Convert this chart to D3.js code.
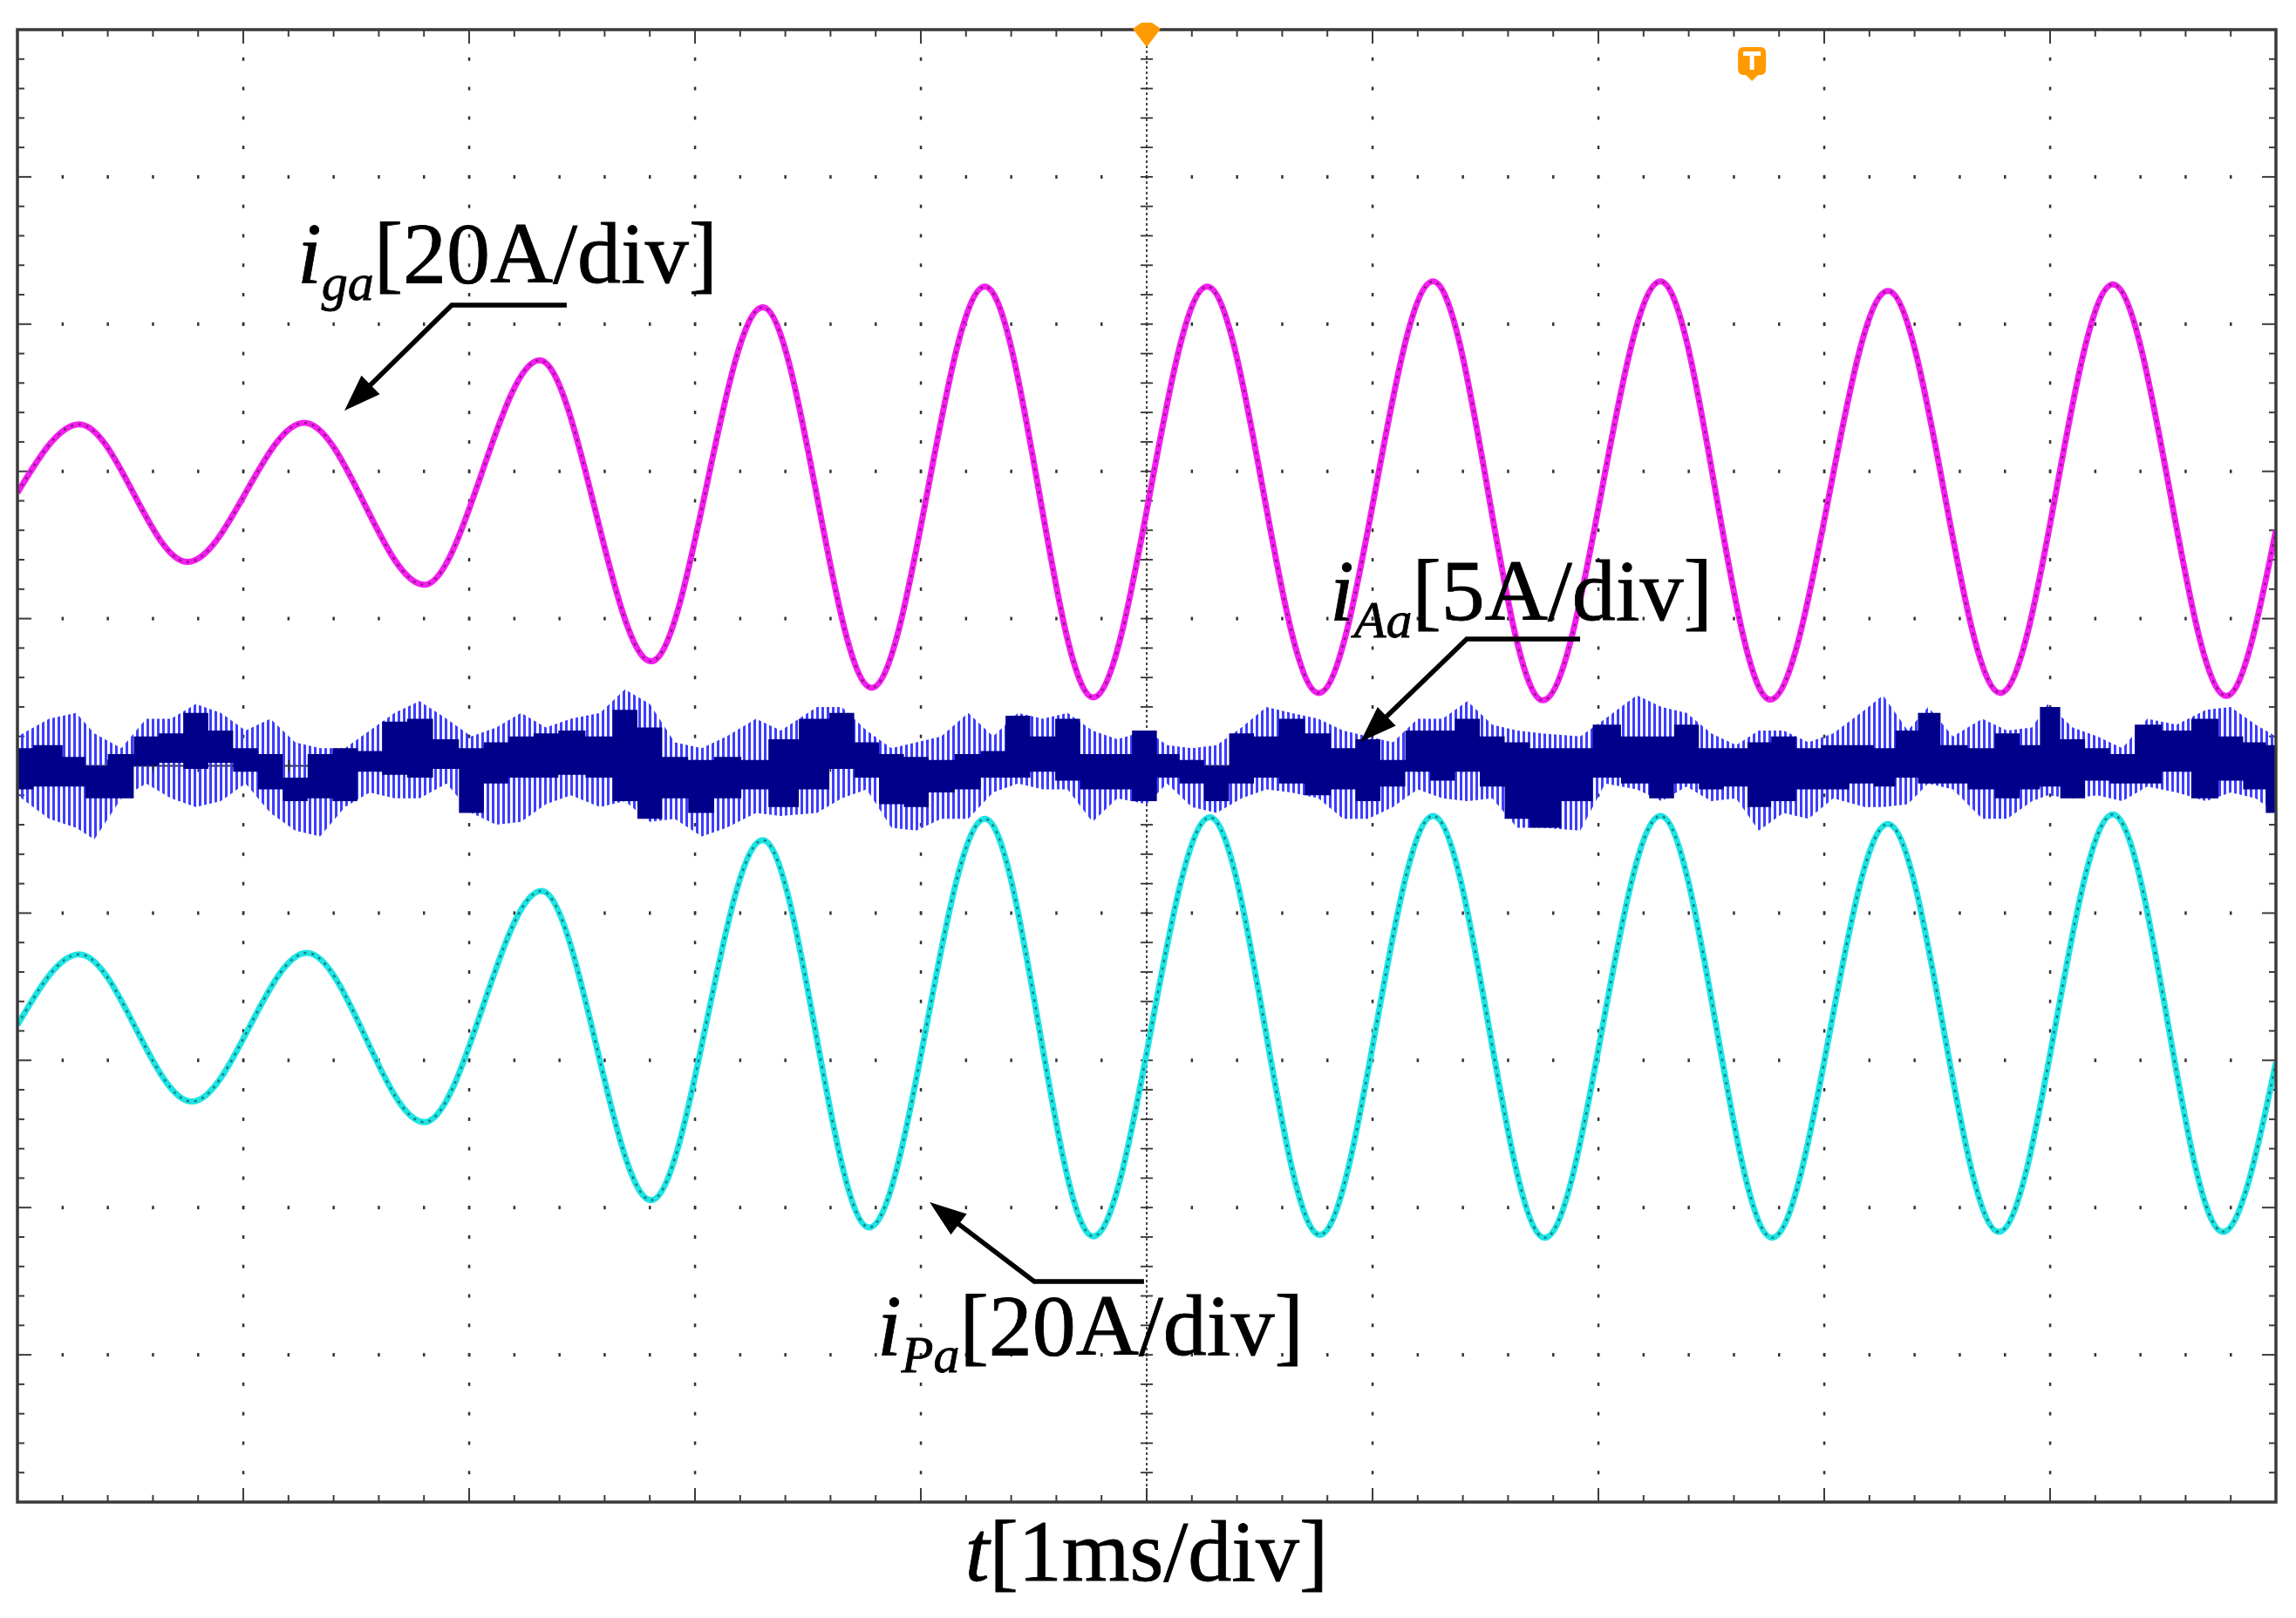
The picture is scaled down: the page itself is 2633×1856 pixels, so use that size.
<!DOCTYPE html>
<html>
<head>
<meta charset="utf-8">
<script src="https://cdn.jsdelivr.net/npm/d3@7"></script>
<style>
  body { margin: 0; background: #fff; }
  svg { display: block; }
</style>
</head>
<body>
<div id="vis"></div>
<script>

// i_ga : grid current, 20 A/div, extrema (time in ms)
var igaT = [0, 0.274, 0.753, 1.270, 1.802, 2.312, 2.806, 3.300, 3.782, 4.284, 4.763,
            5.268, 5.762, 6.268, 6.754, 7.275, 7.761, 8.282, 8.780, 9.278, 9.780, 10];
var igaA = [-0.3, 9.0, -9.7, 9.2, -12.8, 17.7, -23.2, 24.9, -26.8, 27.7, -28.1,
            27.7, -27.5, 28.4, -28.5, 28.4, -28.4, 27.1, -27.5, 28.0, -27.9, -5.4];

// i_Pa : 20 A/div
var ipaT = [0, 0.274, 0.772, 1.281, 1.802, 2.320, 2.806, 3.300, 3.771, 4.284, 4.763,
            5.280, 5.766, 6.268, 6.762, 7.275, 7.769, 8.282, 8.773, 9.278, 9.765, 10];
var ipaA = [0.2, 9.8, -10.2, 10.0, -13.0, 18.4, -23.6, 25.3, -27.3, 28.2, -28.5,
            28.4, -28.3, 28.6, -28.7, 28.6, -28.7, 27.5, -27.9, 28.8, -27.9, -4.9];

// i_Aa : 5 A/div, ripple envelope (outer hatch) and dense core, in A
var iaaT = [0.00, 0.14, 0.26, 0.34, 0.46, 0.57, 0.68, 0.79, 0.90, 1.01, 1.12, 1.23, 1.34, 1.45,
            1.56, 1.67, 1.78, 1.90, 2.01, 2.12, 2.23, 2.34, 2.45, 2.58, 2.69, 2.80, 2.91, 3.03,
            3.14, 3.27, 3.38, 3.54, 3.65, 3.76, 3.87, 3.98, 4.09, 4.21, 4.32, 4.43, 4.54, 4.65,
            4.76, 4.87, 5.00, 5.09, 5.20, 5.31, 5.42, 5.53, 5.64, 5.76, 5.87, 5.98, 6.09, 6.20,
            6.31, 6.42, 6.53, 6.64, 6.75, 6.92, 7.03, 7.17, 7.28, 7.39, 7.50, 7.61, 7.71, 7.82,
            7.93, 8.04, 8.18, 8.26, 8.37, 8.46, 8.57, 8.70, 8.81, 8.92, 8.99, 9.10, 9.21, 9.32,
            9.43, 9.56, 9.69, 9.80, 9.91, 10.0];
var iaaHi = [1.0, 1.6, 1.8, 1.1, 0.6, 1.6, 1.6, 2.1, 1.8, 1.2, 1.6, 0.8, 0.6, 0.6,
             1.2, 1.8, 2.2, 1.6, 1.0, 1.3, 1.8, 1.3, 1.6, 1.8, 2.6, 2.1, 0.8, 0.6,
             1.0, 1.6, 1.2, 2.0, 2.0, 1.2, 0.6, 0.8, 1.0, 1.8, 1.0, 1.8, 1.6, 1.8,
             1.2, 0.9, 1.2, 0.7, 0.6, 0.7, 1.3, 2.0, 1.8, 1.6, 1.2, 1.0, 0.8, 1.6,
             1.6, 2.2, 1.4, 1.2, 1.1, 1.0, 1.6, 2.4, 2.0, 1.8, 1.1, 0.7, 1.2, 1.2,
             0.8, 1.1, 1.9, 2.4, 1.2, 2.0, 1.0, 1.6, 1.2, 1.3, 2.1, 1.3, 1.0, 0.6,
             1.6, 1.4, 1.9, 2.0, 1.4, 1.0];
var iaaLo = [-1.0, -1.8, -2.1, -2.5, -1.1, -0.6, -1.1, -1.4, -1.2, -0.6, -1.6, -2.2, -2.4, -1.4,
             -0.9, -1.1, -1.1, -0.6, -1.6, -2.0, -1.9, -1.3, -1.0, -1.4, -1.2, -1.9, -1.8, -2.4,
             -2.1, -1.6, -1.7, -1.6, -1.1, -0.8, -2.1, -2.2, -1.8, -1.8, -0.9, -0.6, -0.8, -0.8,
             -1.9, -1.1, -1.3, -0.6, -1.4, -1.6, -1.1, -0.8, -0.9, -1.1, -1.8, -1.8, -1.4, -0.8,
             -1.1, -1.2, -1.1, -2.1, -2.1, -2.2, -0.6, -0.8, -1.2, -0.7, -1.2, -1.1, -2.2, -1.6,
             -1.8, -1.1, -1.4, -1.4, -1.3, -0.6, -0.8, -1.8, -1.8, -1.2, -1.0, -1.1, -1.0, -1.2,
             -0.7, -0.9, -1.2, -0.9, -1.1, -1.6];
var iaaCoreHi = [0.6, 0.7, 0.3, 0.0, 0.4, 1.0, 1.1, 1.8, 1.2, 0.6, 0.4, -0.4, 0.4, 0.6,
                 0.5, 1.5, 1.6, 0.9, 0.6, 0.8, 1.0, 1.1, 1.2, 1.0, 1.9, 1.3, 0.3, 0.2,
                 0.3, 0.2, 0.9, 1.6, 1.8, 0.8, 0.4, 0.3, 0.2, 0.4, 0.5, 1.7, 1.0, 1.6,
                 0.4, 0.4, 1.2, 0.4, 0.2, 0.0, 1.1, 1.0, 1.6, 1.1, 0.6, 0.9, 0.2, 1.2,
                 1.2, 1.6, 1.0, 0.8, 0.6, 0.6, 1.4, 1.0, 1.0, 1.4, 0.6, 0.6, 0.8, 1.0,
                 0.6, 0.7, 0.7, 0.6, 1.2, 1.8, 0.7, 0.6, 1.1, 0.7, 2.0, 0.9, 0.6, 0.4,
                 1.4, 1.2, 1.6, 1.0, 0.8, 0.7];
var iaaCoreLo = [-0.8, -0.7, -0.7, -1.1, -1.1, 0.0, 0.1, -0.1, 0.1, -0.2, -0.8, -1.2, -1.1, -1.2,
                 -0.2, -0.3, -0.4, -0.1, -1.6, -0.6, -0.4, -0.4, -0.3, -0.4, -1.2, -1.8, -1.1, -1.6,
                 -1.1, -0.8, -1.4, -0.8, -0.1, -0.4, -1.3, -1.4, -0.9, -0.8, -0.4, -0.4, -0.2, -0.5,
                 -0.8, -0.8, -1.2, -0.4, -0.6, -1.2, -0.6, -0.4, -0.6, -1.0, -0.8, -1.2, -0.7, -0.2,
                 -0.5, -0.2, -0.7, -1.8, -2.1, -1.2, -0.4, -0.6, -1.1, -0.6, -0.8, -0.7, -1.4, -1.2,
                 -0.8, -0.8, -0.6, -0.7, -0.4, -0.6, -0.6, -0.8, -1.1, -0.8, -0.7, -1.1, -0.5, -0.6,
                 -0.6, -0.2, -1.1, -0.5, -0.8, -1.6];

// screen offsets (div) and sensitivities (A/div) of the three channels
var igaOffset = 1.87, igaScale = 20;
var iaaOffset = 0, iaaScale = 5;
var ipaOffset = -1.77, ipaScale = 20;


function scopeChart() {

  var width = 2633;
  var height = 1856;
  var frame = { left: 20, right: 2610, top: 34, bottom: 1723 };
  var serif = '"Liberation Serif", "Times New Roman", serif';

  var x = d3.scaleLinear().domain([0, 10]).range([frame.left, frame.right]);
  var yDiv = d3.scaleLinear().domain([-5, 5]).range([frame.bottom, frame.top]);

  function channelY(offset, perDiv) {
    return function(v) { return yDiv(offset + v / perDiv); };
  }
  var yIga = channelY(igaOffset, igaScale);
  var yIaa = channelY(iaaOffset, iaaScale);
  var yIpa = channelY(ipaOffset, ipaScale);

  var svg = d3.select('#vis').append('svg')
    .attr('width', width)
    .attr('height', height);

  svg.append('rect').attr('width', width).attr('height', height).attr('fill', '#fff');

  var defs = svg.append('defs');
  var pat = defs.append('pattern')
    .attr('id', 'hatch')
    .attr('patternUnits', 'userSpaceOnUse')
    .attr('width', 6)
    .attr('height', 40);
  pat.append('rect').attr('x', 0).attr('y', 0).attr('width', 3).attr('height', 40).attr('fill', '#3d3dff');

  defs.append('clipPath').attr('id', 'plotClip')
    .append('rect')
    .attr('x', frame.left).attr('y', frame.top)
    .attr('width', frame.right - frame.left).attr('height', frame.bottom - frame.top);

  // ---- graticule ----
  var grid = svg.append('g').attr('fill', '#333');
  var minorT = d3.range(1, 50).map(function(k) { return k / 5; });
  var minorD = d3.range(-24, 25).map(function(k) { return k / 5; });

  [1, 2, 3, 4, 6, 7, 8, 9].forEach(function(t) {
    minorD.forEach(function(d) {
      grid.append('rect')
        .attr('x', x(t) - 1.2).attr('y', yDiv(d) - 2)
        .attr('width', 2.5).attr('height', 4);
    });
  });
  [-4, -3, -2, -1, 1, 2, 3, 4].forEach(function(d) {
    minorT.forEach(function(t) {
      grid.append('rect')
        .attr('x', x(t) - 1.2).attr('y', yDiv(d) - 2)
        .attr('width', 2.5).attr('height', 4);
    });
  });

  var ticks = svg.append('g').attr('stroke', '#3c3c3c').attr('stroke-width', 2);
  minorT.forEach(function(t) {
    var len = Number.isInteger(Math.round(t * 1000) / 1000) ? 16 : 8;
    ticks.append('line').attr('x1', x(t)).attr('x2', x(t))
      .attr('y1', frame.top).attr('y2', frame.top + len);
    ticks.append('line').attr('x1', x(t)).attr('x2', x(t))
      .attr('y1', frame.bottom).attr('y2', frame.bottom - len);
  });
  minorD.forEach(function(d) {
    var len = Number.isInteger(Math.round(d * 1000) / 1000) ? 16 : 8;
    ticks.append('line').attr('y1', yDiv(d)).attr('y2', yDiv(d))
      .attr('x1', frame.left).attr('x2', frame.left + len);
    ticks.append('line').attr('y1', yDiv(d)).attr('y2', yDiv(d))
      .attr('x1', frame.right).attr('x2', frame.right - len);
  });

  // centre cross: dashed lines with small cross ticks
  var centre = svg.append('g').attr('stroke', '#333');
  centre.append('line')
    .attr('x1', x(5)).attr('x2', x(5))
    .attr('y1', frame.top).attr('y2', frame.bottom)
    .attr('stroke-width', 1.8).attr('stroke-dasharray', '3,3');
  minorD.forEach(function(d) {
    centre.append('line')
      .attr('x1', x(5) - 7).attr('x2', x(5) + 7)
      .attr('y1', yDiv(d)).attr('y2', yDiv(d))
      .attr('stroke-width', 1.8);
  });

  // ---- i_Aa (ripple current) ----
  var traces = svg.append('g').attr('clip-path', 'url(#plotClip)');
  var iaa = iaaT.map(function(t, i) {
    return { t: t, hi: iaaHi[i], lo: iaaLo[i], cHi: iaaCoreHi[i], cLo: iaaCoreLo[i] };
  });

  traces.append('path')
    .datum(iaa)
    .attr('fill', 'url(#hatch)')
    .attr('d', d3.area()
      .x(function(d) { return x(d.t); })
      .y0(function(d) { return yIaa(d.lo); })
      .y1(function(d) { return yIaa(d.hi); }));

  traces.append('line')
    .attr('x1', frame.left).attr('x2', frame.right)
    .attr('y1', yDiv(0)).attr('y2', yDiv(0))
    .attr('stroke', '#333').attr('stroke-width', 2)
    .attr('stroke-dasharray', '4,2');
  minorT.forEach(function(t) {
    traces.append('line')
      .attr('x1', x(t)).attr('x2', x(t))
      .attr('y1', yDiv(0) - 7).attr('y2', yDiv(0) + 7)
      .attr('stroke', '#333').attr('stroke-width', 1.6);
  });

  traces.append('path')
    .datum(iaa)
    .attr('fill', '#00008a')
    .attr('d', d3.area()
      .x(function(d) { return x(d.t); })
      .y0(function(d) { return yIaa(d.cLo); })
      .y1(function(d) { return yIaa(d.cHi); })
      .curve(d3.curveStep));

  // ---- i_ga and i_Pa ----
  function drawWave(ts, vs, yFn, colour, dark) {
    var pts = ts.map(function(t, i) { return { t: t, v: vs[i] }; });
    var line = d3.line()
      .x(function(d) { return x(d.t); })
      .y(function(d) { return yFn(d.v); })
      .curve(d3.curveMonotoneX);
    traces.append('path').datum(pts)
      .attr('fill', 'none').attr('stroke', colour)
      .attr('stroke-width', 7).attr('stroke-linejoin', 'round')
      .attr('d', line);
    traces.append('path').datum(pts)
      .attr('fill', 'none').attr('stroke', dark)
      .attr('stroke-width', 2.4).attr('stroke-dasharray', '3,6')
      .attr('d', line);
  }
  drawWave(igaT, igaA, yIga, '#f41ef0', '#8a1a7c');
  drawWave(ipaT, ipaA, yIpa, '#1ee4e4', '#137e7e');

  // ---- frame ----
  svg.append('rect')
    .attr('x', frame.left).attr('y', frame.top)
    .attr('width', frame.right - frame.left).attr('height', frame.bottom - frame.top)
    .attr('fill', 'none').attr('stroke', '#3a3a3a').attr('stroke-width', 3.5);

  // trigger position and trigger level markers
  var orange = '#ff9a00';
  svg.append('path')
    .attr('d', 'M' + (x(5) - 16) + ',' + (frame.top - 1) + 'L' + (x(5) - 6) + ',' + (frame.top - 8) +
               'L' + (x(5) + 6) + ',' + (frame.top - 8) + 'L' + (x(5) + 16) + ',' + (frame.top - 1) +
               'L' + x(5) + ',' + (frame.top + 20) + 'Z')
    .attr('fill', orange);

  var tx = x(7.68);
  var tm = svg.append('g');
  tm.append('rect').attr('x', tx - 16).attr('y', 54).attr('width', 32).attr('height', 32)
    .attr('rx', 6).attr('fill', orange);
  tm.append('path').attr('d', 'M' + (tx - 9) + ',84L' + (tx + 9) + ',84L' + tx + ',93Z').attr('fill', orange);
  tm.append('rect').attr('x', tx - 10).attr('y', 59).attr('width', 20).attr('height', 5).attr('fill', '#fff');
  tm.append('rect').attr('x', tx - 2.5).attr('y', 59).attr('width', 5).attr('height', 21).attr('fill', '#fff');

  // ---- annotations ----
  var notes = [
    { sub: 'ga', rest: '[20A/div]', t: 1.239, d: 3.283, lineT: [2.432, 1.923], lineD: 3.129, tipT: 1.448, tipD: 2.413 },
    { sub: 'Aa', rest: '[5A/div]',  t: 5.811, d: 0.992, lineT: [6.919, 6.417], lineD: 0.861, tipT: 5.946, tipD: 0.163 },
    { sub: 'Pa', rest: '[20A/div]', t: 3.807, d: -4.0, lineT: [4.988, 4.502], lineD: -3.502, tipT: 4.039, tipD: -2.963 }
  ];

  notes.forEach(function(n) {
    var txt = svg.append('text')
      .attr('x', x(n.t)).attr('y', yDiv(n.d))
      .style('font-family', serif).style('font-size', '100px')
      .attr('fill', '#000').attr('stroke', '#000').attr('stroke-width', 0.8);
    txt.append('tspan').style('font-style', 'italic').text('i');
    txt.append('tspan').style('font-style', 'italic').style('font-size', '60px')
      .attr('dy', 20).text(n.sub);
    txt.append('tspan').attr('dy', -20).text(n.rest);

    var hx0 = x(n.lineT[0]), hx1 = x(n.lineT[1]), hy = yDiv(n.lineD);
    var px = x(n.tipT), py = yDiv(n.tipD);
    var dx = px - hx1, dy = py - hy, len = Math.sqrt(dx * dx + dy * dy);
    var ux = dx / len, uy = dy / len;
    var headL = 42, headW = 15;
    var bx = px - ux * headL, by = py - uy * headL;

    svg.append('path')
      .attr('d', 'M' + hx0 + ',' + hy + 'L' + hx1 + ',' + hy + 'L' + (bx + ux * 4) + ',' + (by + uy * 4))
      .attr('fill', 'none').attr('stroke', '#000').attr('stroke-width', 5.5)
      .attr('stroke-linejoin', 'miter');
    svg.append('path')
      .attr('d', 'M' + px + ',' + py +
                 'L' + (bx - uy * headW) + ',' + (by + ux * headW) +
                 'L' + (bx + uy * headW) + ',' + (by - ux * headW) + 'Z')
      .attr('fill', '#000');
  });

  // time axis caption
  var cap = svg.append('text')
    .attr('x', x(5)).attr('y', 1813)
    .attr('text-anchor', 'middle')
    .style('font-family', serif).style('font-size', '100px')
    .attr('fill', '#000').attr('stroke', '#000').attr('stroke-width', 0.8);
  cap.append('tspan').style('font-style', 'italic').text('t');
  cap.append('tspan').text('[1ms/div]');
}

scopeChart();
</script>
</body>
</html>
